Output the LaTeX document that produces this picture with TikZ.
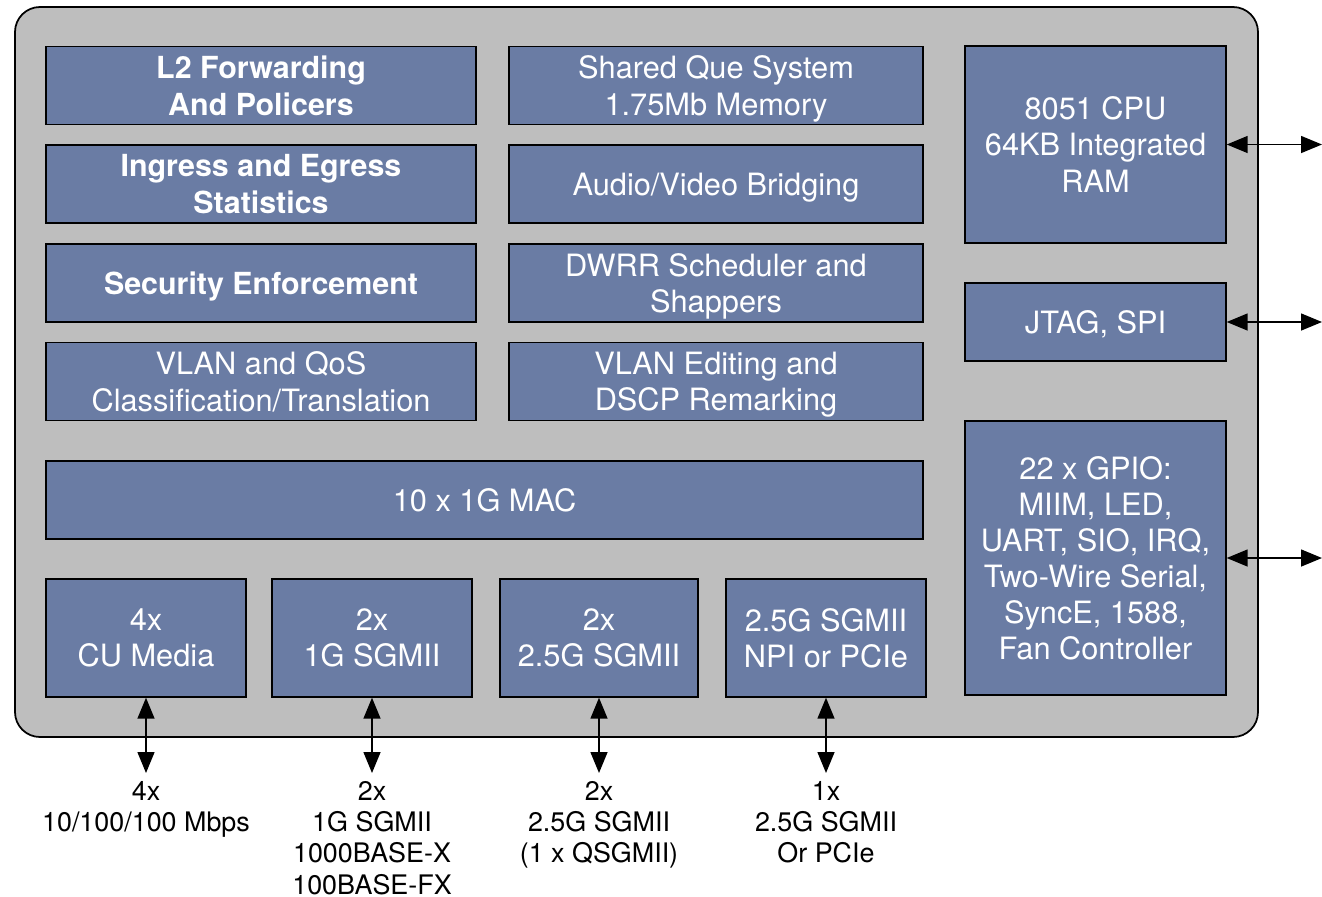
\documentclass[tikz,border=0pt]{standalone}
\usepackage{fontspec}
\setmainfont{TeX Gyre Heros}
\usepackage{xcolor}
\usetikzlibrary{arrows.meta, positioning}

\definecolor{chipgray}{RGB}{190,190,190}
\definecolor{blockblue}{RGB}{106,124,164}

\begin{document}
\begin{tikzpicture}[
    box/.style={draw, line width=0.8pt, fill=blockblue, text=white, align=center,
                inner sep=2pt, text depth=0pt, font=\fontsize{17.5}{20.5}\selectfont},
    boldbox/.style={box, font=\fontsize{17.3}{21}\selectfont\bfseries},
    wide/.style={minimum width=8.6cm, minimum height=1.56cm},
    mid/.style={minimum width=8.28cm, minimum height=1.56cm},
    port/.style={minimum width=4cm, minimum height=2.36cm},
    side/.style={minimum width=5.22cm},
    arrow/.style={{Triangle[length=0.42cm, width=0.34cm]}-{Triangle[length=0.42cm, width=0.34cm]}, line width=0.85pt},
    label/.style={font=\fontsize{15.3}{17.8}\selectfont, align=center, anchor=north, inner sep=0pt},
]
\useasboundingbox (0,0) rectangle (26.44,-17.92);

% chip outline
\draw[line width=1pt, fill=chipgray, rounded corners=0.5cm] (0.30,-0.14) rectangle (25.16,-14.74);

% left column
\node[boldbox, wide] (l2)   at (5.22,-1.71) {L2 Forwarding\\And Policers};
\node[boldbox, wide] (stat) at (5.22,-3.68) {Ingress and Egress\\Statistics};
\node[boldbox, wide] (sec)  at (5.22,-5.66) {Security Enforcement};
\node[box, wide]     (qos)  at (5.22,-7.63) {VLAN and QoS\\Classification/Translation};

% middle column
\node[box, mid] (que)  at (14.32,-1.71) {Shared Que System\\1.75Mb Memory};
\node[box, mid] (avb)  at (14.32,-3.68) {Audio/Video Bridging};
\node[box, mid] (dwrr) at (14.32,-5.66) {DWRR Scheduler and\\Shappers};
\node[box, mid] (edit) at (14.32,-7.63) {VLAN Editing and\\DSCP Remarking};

\node[box, minimum width=17.54cm, minimum height=1.56cm] (mac) at (9.69,-10.0) {10 x 1G MAC};

% ports
\node[box, port] (cu)   at (2.92,-12.76)  {4x\\CU Media};
\node[box, port] (sg1)  at (7.44,-12.76)  {2x\\1G SGMII};
\node[box, port, minimum width=3.96cm] (sg25) at (11.98,-12.76) {2x\\2.5G SGMII};
\node[box, port] (npi)  at (16.52,-12.76) {2.5G SGMII\\NPI or PCIe};

% right column
\node[box, side, minimum height=3.94cm] (cpu)  at (21.91,-2.89)  {8051 CPU\\64KB Integrated\\RAM};
\node[box, side, minimum height=1.56cm] (jtag) at (21.91,-6.44)  {JTAG, SPI};
\node[box, side, minimum height=5.48cm] (gpio) at (21.91,-11.16) {22 x GPIO:\\MIIM, LED,\\UART, SIO, IRQ,\\Two-Wire Serial,\\SyncE, 1588,\\Fan Controller};

\coordinate (cpuout)  at (26.44,-2.89);
\coordinate (jtagout) at (26.44,-6.44);
\coordinate (gpioout) at (26.44,-11.16);
\draw[arrow] (cpu.east) -- (cpuout);
\draw[arrow] (jtag.east) -- (jtagout);
\draw[arrow] (gpio.east) -- (gpioout);

% external interfaces
\coordinate (cuout)   at (2.92,-15.46);
\coordinate (sg1out)  at (7.44,-15.46);
\coordinate (sg25out) at (11.98,-15.46);
\coordinate (npiout)  at (16.52,-15.46);
\draw[arrow] (cu.south) -- (cuout);
\draw[arrow] (sg1.south) -- (sg1out);
\draw[arrow] (sg25.south) -- (sg25out);
\draw[arrow] (npi.south) -- (npiout);

\node[label] (cutxt)   at (2.92,-15.62)  {4x\\10/100/100 Mbps};
\node[label] (sg1txt)  at (7.44,-15.62)  {2x\\1G SGMII\\1000BASE-X\\100BASE-FX};
\node[label] (sg25txt) at (11.98,-15.62) {2x\\2.5G SGMII\\(1 x QSGMII)};
\node[label] (npitxt)  at (16.52,-15.62) {1x\\2.5G SGMII\\Or PCIe};

\end{tikzpicture}
\end{document}
